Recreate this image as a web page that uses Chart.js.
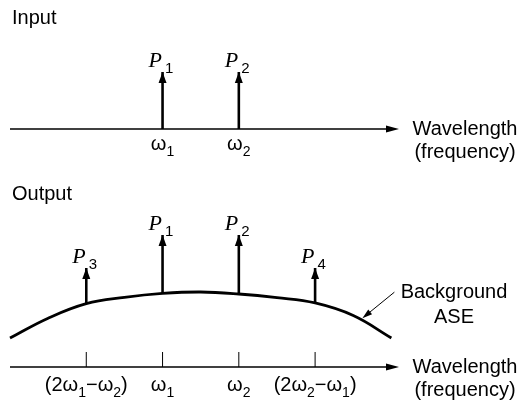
<!DOCTYPE html>
<html>
<head>
<meta charset="utf-8">
<script src="https://cdn.jsdelivr.net/npm/chart.js@4"></script>
<style>
  body { margin: 0; background: #fff; }
  canvas { position: absolute; left: 0; }
</style>
</head>
<body>
<canvas id="inputChart" width="524" height="170" style="top:0px"></canvas>
<canvas id="outputChart" width="524" height="233" style="top:170px"></canvas>
<script>
// frequency axis normalised so 2w1-w2, w1, w2, 2w2-w1 sit at 0,1,2,3
const inputFreq = [1, 2]
const inputPower = [1, 1]
const inputNames = ['P_1', 'P_2']
const inputTicks = ['ω_1', 'ω_2']

const outputFreq = [0, 1, 2, 3]
const outputPower = [7.5, 10, 10, 7.5]
const outputNames = ['P_3', 'P_1', 'P_2', 'P_4']
const outputTicks = ['(2ω_1−ω_2)', 'ω_1', 'ω_2', '(2ω_2−ω_1)']

// background ASE spectrum
const aseFreq = [-1, -0.5, 0, 0.5, 1, 1.5, 2, 2.5, 3, 3.5, 4]
const aseLevel = [2.2, 3.7, 4.8, 5.27, 5.57, 5.68, 5.53, 5.25, 4.85, 3.9, 2.2]

const SANS = '"Liberation Sans", Arial, Helvetica, sans-serif'
const SERIF = '"Liberation Serif", "Times New Roman", serif'

function parts(str) {
  const out = []
  for (let i = 0; i < str.length; i++) {
    if (str[i] === '_') { out.push({ t: str[i + 1], sub: true }); i++ }
    else {
      const last = out[out.length - 1]
      if (last && !last.sub) last.t += str[i]
      else out.push({ t: str[i], sub: false })
    }
  }
  return out
}

// text with one-character subscripts marked by "_"
function drawRich(ctx, str, x, y, align, font, subFont, subDy, subGap) {
  const ps = parts(str)
  let w = 0
  ps.forEach(p => {
    ctx.font = p.sub ? subFont : font
    p.w = ctx.measureText(p.t).width
    p.gap = p.sub ? subGap : 0
    w += p.w + p.gap
  })
  let cx = align === 'center' ? x - w / 2 : x
  ctx.textAlign = 'left'
  ctx.textBaseline = 'alphabetic'
  ps.forEach(p => {
    ctx.font = p.sub ? subFont : font
    cx += p.gap
    ctx.fillText(p.t, cx, p.sub ? y + subDy : y)
    cx += p.w
  })
}

function arrowHead(ctx, x, y, ang, len, wid) {
  ctx.save()
  ctx.translate(x, y)
  ctx.rotate(ang)
  ctx.beginPath()
  ctx.moveTo(0, 0)
  ctx.lineTo(-len, wid / 2)
  ctx.lineTo(-len, -wid / 2)
  ctx.closePath()
  ctx.fill()
  ctx.restore()
}

function diagramPlugin(cfg) {
  return {
    id: 'diagram',
    afterDatasetsDraw(chart) {
      const ctx = chart.ctx
      ctx.save()
      ctx.fillStyle = '#000'
      chart.data.datasets.forEach((ds, i) => {
        if (!ds.arrow) return
        const pts = chart.getDatasetMeta(i).data
        const tip = pts[pts.length - 1]
        arrowHead(ctx, tip.x, tip.y, -Math.PI / 2, 11, 8)
        drawRich(ctx, ds.label, tip.x - 14, tip.y - 5, 'left',
          'italic 22px ' + SERIF, '15px ' + SANS, 6, 3)
      })
      ctx.restore()
    },
    afterDraw(chart) {
      const ctx = chart.ctx
      const xs = chart.scales.x
      const ys = chart.scales.y
      const y0 = ys.getPixelForValue(0)
      ctx.save()
      ctx.strokeStyle = '#000'
      ctx.fillStyle = '#000'
      // frequency axis with arrow
      ctx.lineWidth = 1.3
      ctx.beginPath()
      ctx.moveTo(chart.chartArea.left, y0)
      ctx.lineTo(chart.chartArea.right - 10, y0)
      ctx.stroke()
      arrowHead(ctx, chart.chartArea.right, y0, 0, 13, 7)

      ctx.font = '20px ' + SANS
      ctx.textAlign = 'center'
      ctx.textBaseline = 'alphabetic'
      ctx.fillText('Wavelength', 465, y0 + 6)
      ctx.fillText('(frequency)', 465, y0 + 29)

      ctx.textAlign = 'left'
      ctx.fillText(cfg.title, 12, cfg.titleY)

      cfg.freqs.forEach((f, i) => {
        const px = xs.getPixelForValue(f)
        if (cfg.tickMarks) {
          ctx.lineWidth = 1
          ctx.beginPath()
          ctx.moveTo(px, y0)
          ctx.lineTo(px, y0 - 15)
          ctx.stroke()
        }
        drawRich(ctx, cfg.ticks[i], px, y0 + cfg.labelDy, 'center',
          '20px ' + SANS, '14px ' + SANS, 6, 0)
      })

      if (cfg.leader) {
        const L = cfg.leader
        const tx = xs.getPixelForValue(L.x)
        const ty = ys.getPixelForValue(L.y)
        const sx = tx + 32
        const sy = ty - 26
        ctx.lineWidth = 1
        ctx.beginPath()
        ctx.moveTo(sx, sy)
        ctx.lineTo(tx + 5, ty - 4)
        ctx.stroke()
        arrowHead(ctx, tx, ty, Math.atan2(ty - sy, tx - sx), 10, 6)
        ctx.font = '20px ' + SANS
        ctx.textAlign = 'center'
        ctx.fillText('Background', 454, sy + 6)
        ctx.fillText('ASE', 454, sy + 31)
      }
      ctx.restore()
    }
  }
}

function spikes(freqs, powers, names, base) {
  return freqs.map((f, i) => ({
    label: names[i],
    arrow: true,
    data: [{ x: f, y: base(f) }, { x: f, y: powers[i] }],
    showLine: true,
    borderColor: '#000',
    borderWidth: 2.6,
    pointRadius: 0,
    clip: false
  }))
}

function baseOptions(yMax, padTop, padBottom) {
  return {
    responsive: false,
    animation: false,
    devicePixelRatio: 1,
    layout: { padding: { left: 10, right: 125, top: padTop, bottom: padBottom } },
    plugins: { legend: { display: false }, tooltip: { enabled: false } },
    scales: {
      x: { type: 'linear', min: -1, max: 4.1, display: false },
      y: { type: 'linear', min: 0, max: yMax, display: false }
    }
  }
}

new Chart(document.getElementById('inputChart').getContext('2d'), {
  type: 'scatter',
  data: { datasets: spikes(inputFreq, inputPower, inputNames, () => 0) },
  options: baseOptions(1, 72, 41),
  plugins: [diagramPlugin({ title: 'Input', titleY: 24, freqs: inputFreq, ticks: inputTicks, labelDy: 21, tickMarks: false })]
})

const aseAt = f => aseLevel[aseFreq.indexOf(f)]

new Chart(document.getElementById('outputChart').getContext('2d'), {
  type: 'scatter',
  data: {
    datasets: [
      {
        label: 'Background ASE',
        data: aseFreq.map((f, i) => ({ x: f, y: aseLevel[i] })),
        showLine: true,
        tension: 0.4,
        borderColor: '#000',
        borderWidth: 2.8,
        pointRadius: 0,
        clip: false
      },
      ...spikes(outputFreq, outputPower, outputNames, aseAt)
    ]
  },
  options: baseOptions(10, 65, 36),
  plugins: [diagramPlugin({ title: 'Output', titleY: 30, freqs: outputFreq, ticks: outputTicks, labelDy: 24, tickMarks: true,
    leader: { x: 3.62, y: 3.7 } })]
})
</script>
</body>
</html>
